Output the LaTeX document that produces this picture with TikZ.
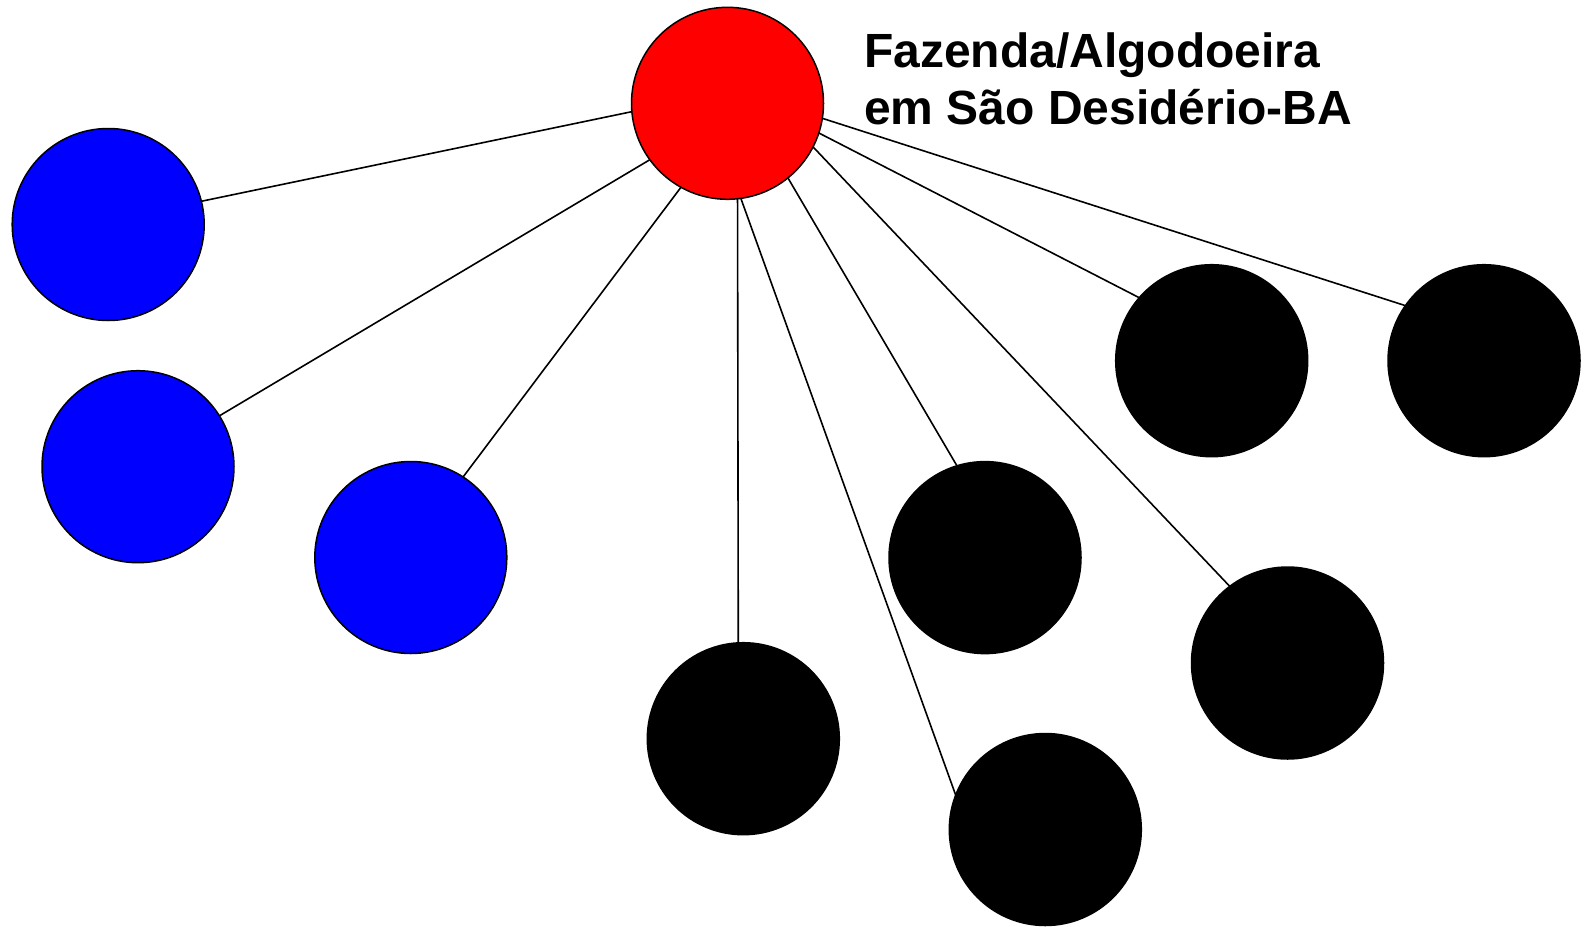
\documentclass[tikz,border=0pt]{standalone}
\usepackage{fontspec}
\setmainfont{Liberation Sans}
\begin{document}
\begin{tikzpicture}[x=1pt,y=-1pt,
  disc/.style={circle,draw=black,line width=1.5pt,minimum size=192pt,inner sep=0pt,outer sep=0pt},
  hub/.style={disc,fill=red},
  bluedisc/.style={disc,fill=blue},
  blackdisc/.style={disc,fill=black},
  link/.style={draw=black,line width=1.6pt},
  lbl/.style={anchor=base west,inner sep=0pt,font=\bfseries\fontsize{48pt}{57pt}\selectfont}]
\useasboundingbox[fill=white] (0,0) rectangle (1586,926);
\node[hub] (r) at (727.5,103.3) {};
\node[bluedisc] (b1) at (108.2,224.5) {};
\node[bluedisc] (b2) at (138,466.7) {};
\node[bluedisc] (b3) at (410.8,557.5) {};
\node[blackdisc] (k1) at (743.3,738.7) {};
\node[blackdisc] (k2) at (1045.3,829.5) {};
\node[blackdisc] (k3) at (985,557.6) {};
\node[blackdisc] (k4) at (1287.5,663) {};
\node[blackdisc] (k5) at (1211.7,360.7) {};
\node[blackdisc] (k6) at (1484,360.7) {};
\draw[link] (r.185.8) -- (b1.14.7);
\draw[link] (r.216.2) -- (b2.32.3);
\draw[link] (r.241.4) -- (b3.57.8);
\draw[link] (r.276.1) -- (k1.93.3);
\draw[link] (r.278.6) -- (k2.159.2);
\draw[link] (r.309.2) -- (k3.107.4);
\draw[link] (r.333.7) -- (k4.127.3);
\draw[link] (r.342.1) -- (k5.139.7);
\draw[link] (r.351.8) -- (k6.145.9);
\node[lbl] (t1) at (864,67) {Fazenda/Algodoeira};
\node[lbl] (t2) at (864,124) {em São Desidério-BA};
\end{tikzpicture}
\end{document}
